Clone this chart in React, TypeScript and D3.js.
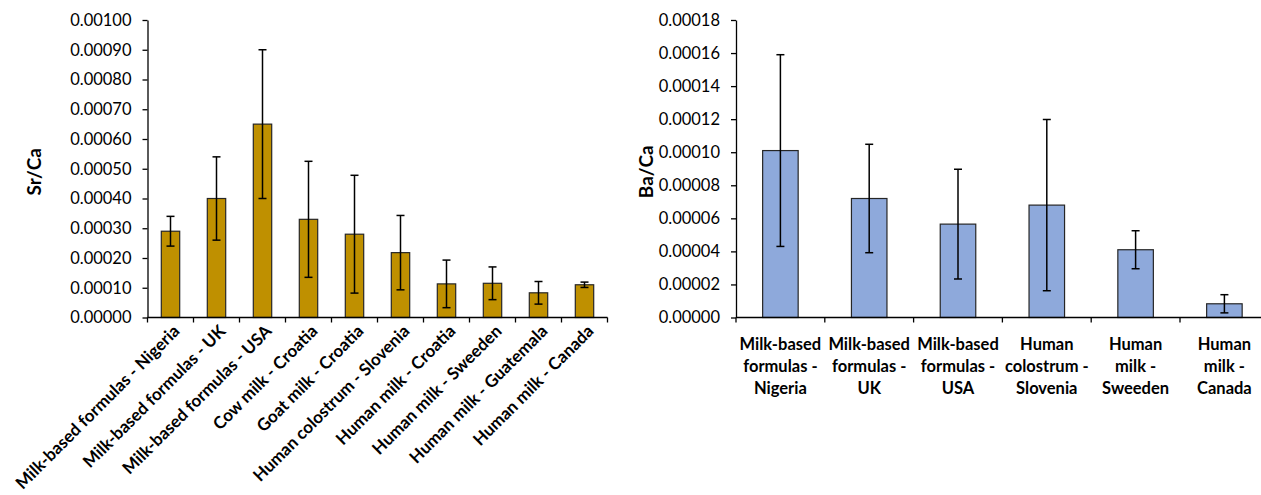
import React, { useEffect, useRef } from "react";
import * as d3 from "d3";

// Sr/Ca panel
const srCategories = [
  "Milk-based formulas - Nigeria",
  "Milk-based formulas - UK",
  "Milk-based formulas - USA",
  "Cow milk - Croatia",
  "Goat milk - Croatia",
  "Human colostrum - Slovenia",
  "Human milk - Croatia",
  "Human milk - Sweeden",
  "Human milk - Guatemala",
  "Human milk - Canada",
];
const srMeans = [0.00029, 0.0004, 0.00065, 0.00033, 0.00028, 0.000218, 0.000113, 0.000115, 0.000083, 0.00011];
const srErrors = [0.00005, 0.00014, 0.00025, 0.000195, 0.000198, 0.000125, 0.00008, 0.000055, 0.000038, 0.000009];
const srTicks = d3.range(0, 11).map((i) => i * 0.0001);

// Ba/Ca panel
const baCategories = [
  ["Milk-based", "formulas -", "Nigeria"],
  ["Milk-based", "formulas -", "UK"],
  ["Milk-based", "formulas -", "USA"],
  ["Human", "colostrum -", "Slovenia"],
  ["Human", "milk -", "Sweeden"],
  ["Human", "milk -", "Canada"],
];
const baMeans = [0.000101, 0.000072, 0.0000565, 0.000068, 0.000041, 0.0000083];
const baErrors = [0.000058, 0.0000328, 0.0000332, 0.0000518, 0.0000115, 0.0000055];
const baTicks = d3.range(0, 10).map((i) => i * 0.00002);

const FONT = "Lato, 'Open Sans', sans-serif";

export default function App() {
  const svgRef = useRef<SVGSVGElement>(null);

  useEffect(() => {
    const svg = d3.select(svgRef.current);
    svg.selectAll("*").remove();

    function drawPanel(opts: {
      left: number;
      right: number;
      top: number;
      bottom: number;
      n: number;
      means: number[];
      errors: number[];
      ticks: number[];
      fill: string;
      title: string;
      titleX: number;
    }) {
      const { left, right, top, bottom, n, means, errors, ticks, fill, title, titleX } = opts;
      const g = svg.append("g");
      const y = d3.scaleLinear().domain([0, ticks[ticks.length - 1]]).range([bottom, top]);
      const x = d3.scaleBand<number>().domain(d3.range(n)).range([left, right]).padding(0);
      const bw = x.bandwidth() * 0.4;

      // y axis
      const yAxis = d3
        .axisLeft(y)
        .tickValues(ticks)
        .tickSize(5)
        .tickSizeOuter(0)
        .tickPadding(11)
        .tickFormat(d3.format(".5f") as any);
      const ya = g.append("g").attr("transform", `translate(${left},0)`).call(yAxis);
      ya.selectAll("path,line").attr("stroke", "#000").attr("stroke-width", 1.3);
      ya.selectAll("text")
        .attr("font-family", FONT)
        .attr("font-size", 16.5)
        .attr("fill", "#000");

      g.append("text")
        .attr("transform", `translate(${titleX},${(top + bottom) / 2 + 3}) rotate(-90)`)
        .attr("text-anchor", "middle")
        .attr("dy", "0.35em")
        .attr("font-family", FONT)
        .attr("font-weight", "bold")
        .attr("font-size", 19)
        .text(title);

      // bars
      g.selectAll(".bar")
        .data(means)
        .enter()
        .append("rect")
        .attr("x", (_d, i) => x(i)! + x.bandwidth() / 2 - bw / 2)
        .attr("y", (d) => y(d))
        .attr("width", bw)
        .attr("height", (d) => bottom - y(d))
        .attr("fill", fill)
        .attr("stroke", "#262626")
        .attr("stroke-width", 1.2);

      // error bars
      const eb = g.selectAll(".err").data(means).enter().append("g");
      eb.append("line")
        .attr("x1", (_d, i) => x(i)! + x.bandwidth() / 2)
        .attr("x2", (_d, i) => x(i)! + x.bandwidth() / 2)
        .attr("y1", (d, i) => y(d + errors[i]))
        .attr("y2", (d, i) => y(d - errors[i]))
        .attr("stroke", "#000")
        .attr("stroke-width", 1.5);
      [1, -1].forEach((s) => {
        eb.append("line")
          .attr("x1", (_d, i) => x(i)! + x.bandwidth() / 2 - 4)
          .attr("x2", (_d, i) => x(i)! + x.bandwidth() / 2 + 4)
          .attr("y1", (d, i) => y(d + s * errors[i]))
          .attr("y2", (d, i) => y(d + s * errors[i]))
          .attr("stroke", "#000")
          .attr("stroke-width", 1.5);
      });

      // x axis
      g.append("line")
        .attr("x1", left)
        .attr("x2", right)
        .attr("y1", bottom)
        .attr("y2", bottom)
        .attr("stroke", "#000")
        .attr("stroke-width", 1.3);
      g.selectAll(".xt")
        .data(d3.range(n + 1))
        .enter()
        .append("line")
        .attr("x1", (i) => left + i * x.step())
        .attr("x2", (i) => left + i * x.step())
        .attr("y1", bottom)
        .attr("y2", bottom + 5)
        .attr("stroke", "#000")
        .attr("stroke-width", 1.3);
      return { g, x };
    }

    const p1 = drawPanel({
      left: 147.5,
      right: 607.5,
      top: 20,
      bottom: 317.5,
      n: srCategories.length,
      means: srMeans,
      errors: srErrors,
      ticks: srTicks,
      fill: "#BF9000",
      title: "Sr/Ca",
      titleX: 34,
    });
    p1.g
      .selectAll(".xl")
      .data(srCategories)
      .enter()
      .append("text")
      .attr("transform", (_d, i) => `translate(${p1.x(i)! + p1.x.bandwidth() / 2 + 6},${328}) rotate(-45)`)
      .attr("text-anchor", "end")
      .attr("dy", "0.35em")
      .attr("font-family", FONT)
      .attr("font-weight", "bold")
      .attr("font-size", 17)
      .text((d) => d);

    const p2 = drawPanel({
      left: 736,
      right: 736 + 88.8 * 6,
      top: 20,
      bottom: 317.5,
      n: baCategories.length,
      means: baMeans,
      errors: baErrors,
      ticks: baTicks,
      fill: "#8EA9DB",
      title: "Ba/Ca",
      titleX: 646,
    });
    const lbl = p2.g
      .selectAll(".xl")
      .data(baCategories)
      .enter()
      .append("text")
      .attr("text-anchor", "middle")
      .attr("font-family", FONT)
      .attr("font-weight", "bold")
      .attr("font-size", 16.5);
    lbl
      .selectAll("tspan")
      .data((d, i) => d.map((s) => ({ s, i })))
      .enter()
      .append("tspan")
      .attr("x", (d) => p2.x(d.i)! + p2.x.bandwidth() / 2)
      .attr("y", (_d, j) => 350 + j * 22)
      .text((d) => d.s);
  }, []);

  return (
    <svg
      ref={svgRef}
      width={1261}
      height={495}
      style={{ position: "absolute", left: 0, top: 0, background: "#fff" }}
    />
  );
}
